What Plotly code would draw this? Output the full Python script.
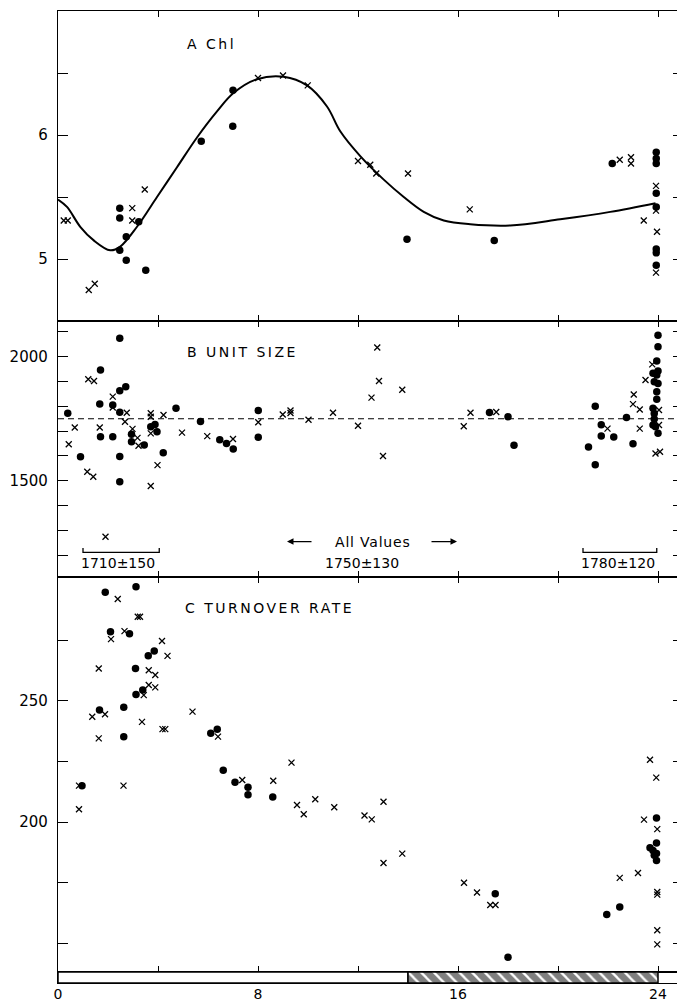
import plotly.graph_objects as go

# ---------------- Panel A: Chl ----------------
chl_curve_x = [0, 0.36, 0.89, 1.43, 2.09, 2.49, 3.16, 3.96, 4.76, 5.56, 6.36, 7.03, 7.96, 9.03,
               9.96, 10.76, 11.29, 12.09, 13.03, 13.83, 14.63, 15.43, 16.49, 18.09, 20.09, 22.09, 23.9]
chl_curve_y = [5.48, 5.42, 5.26, 5.15, 5.07, 5.10, 5.26, 5.50, 5.74, 5.98, 6.19, 6.34, 6.45, 6.47,
               6.40, 6.23, 6.03, 5.83, 5.64, 5.50, 5.38, 5.31, 5.28, 5.27, 5.32, 5.38, 5.45]
chl_dot_x = [2.47, 2.47, 2.47, 2.73, 2.73, 3.23, 3.51, 5.73, 7.0, 6.99, 13.96, 17.45, 22.17,
             23.93, 23.93, 23.93, 23.93, 23.93, 23.93, 23.93, 23.93]
chl_dot_y = [5.41, 5.33, 5.07, 5.18, 4.99, 5.30, 4.91, 5.95, 6.36, 6.07, 5.16, 5.15, 5.77,
             5.86, 5.81, 5.77, 5.53, 5.42, 5.08, 5.05, 4.95]
chl_cross_x = [0.23, 0.39, 1.23, 1.47, 2.97, 2.97, 3.47, 8.0, 9.0, 9.99, 12.0, 12.49, 12.73, 14.0,
               16.47, 22.47, 22.92, 22.92, 23.43, 23.92, 23.92, 23.96, 23.92]
chl_cross_y = [5.31, 5.31, 4.75, 4.80, 5.41, 5.31, 5.56, 6.46, 6.48, 6.40, 5.79, 5.76, 5.69, 5.69,
               5.40, 5.80, 5.82, 5.77, 5.31, 5.59, 5.39, 5.22, 4.89]

# ---------------- Panel B: Unit size ----------------
unit_dot_x = [0.39, 0.90, 1.67, 1.70, 1.70, 2.19, 2.19, 2.47, 2.47, 2.71, 2.47, 2.47, 2.47, 2.94,
              2.94, 3.45, 3.71, 3.88, 3.96, 4.21, 4.72, 5.70, 6.47, 6.74, 7.01, 8.01, 8.01, 17.26,
              18.0, 18.24, 21.22, 21.49, 21.49, 21.73, 21.73, 22.23, 22.74, 23.0,
              24.0, 24.0, 23.95, 24.0, 23.8, 23.95, 23.85, 24.0, 23.95, 23.95, 23.8, 23.85, 23.85,
              23.8, 23.9, 24.0]
unit_dot_y = [1772, 1597, 1809, 1677, 1946, 1805, 1677, 2074, 1863, 1879, 1776, 1598, 1496, 1687,
              1657, 1644, 1718, 1727, 1698, 1613, 1792, 1739, 1665, 1650, 1628, 1783, 1675, 1775,
              1758, 1643, 1636, 1800, 1565, 1726, 1680, 1676, 1755, 1649,
              2087, 2040, 1983, 1942, 1933, 1926, 1899, 1892, 1859, 1829, 1792, 1771, 1749,
              1725, 1718, 1691]
unit_cross_x = [0.43, 0.67, 1.21, 1.44, 1.67, 1.17, 1.41, 1.90, 2.19, 2.19, 2.75, 2.68, 2.98, 3.18,
                3.22, 3.71, 3.71, 3.71, 3.71, 3.98, 4.22, 4.96, 5.97, 7.0, 8.01, 8.99, 9.3, 9.3,
                10.02, 11.0, 12.0, 12.54, 12.77, 12.84, 13.77, 13.0, 16.23, 16.5, 17.53, 21.98,
                23.03, 23.0, 23.27, 23.27, 23.5, 23.77, 24.04, 24.04, 23.9, 24.08]
unit_cross_y = [1647, 1715, 1909, 1902, 1715, 1536, 1516, 1274, 1839, 1795, 1774, 1738, 1709, 1673,
                1641, 1772, 1758, 1691, 1479, 1563, 1765, 1694, 1680, 1668, 1736, 1767, 1783, 1773,
                1746, 1774, 1722, 1835, 2037, 1902, 1867, 1600, 1720, 1774, 1777, 1710,
                1848, 1809, 1787, 1710, 1906, 1969, 1785, 1725, 1610, 1617]
unit_mean = 1750
group_labels = ["1710±150", "1750±130", "1780±120"]
group_ranges = [(1.0, 4.05), (21.0, 23.95)]

# ---------------- Panel C: Turnover rate ----------------
turn_dot_x = [0.96, 1.89, 3.12, 2.10, 2.86, 3.61, 3.85, 3.10, 3.39, 3.12, 1.66, 2.63, 2.63, 6.11,
              6.37, 6.61, 7.08, 7.6, 7.6, 8.59, 17.49, 18.0, 21.95, 22.47, 23.94, 23.94, 23.68,
              23.8, 23.94, 23.85, 23.94]
turn_dot_y = [215.0, 294.7, 297.0, 278.4, 277.6, 268.5, 270.5, 263.3, 254.4, 252.6, 246.2, 247.3,
              235.2, 236.6, 238.3, 221.4, 216.4, 214.3, 211.3, 210.3, 170.4, 144.3, 161.9, 165.0,
              201.7, 191.4, 189.4, 188.3, 187.0, 186.3, 184.2]
turn_cross_x = [0.84, 0.84, 1.37, 1.88, 1.63, 1.63, 2.39, 2.12, 2.66, 2.62, 3.19, 3.28, 3.63, 3.89,
                3.63, 3.89, 3.43, 3.36, 4.16, 4.38, 4.18, 4.29, 5.38, 6.4, 7.37, 8.61, 9.34, 9.56,
                9.83, 10.29, 11.05, 12.26, 12.55, 13.02, 13.02, 13.77, 16.24, 16.76, 17.29, 17.5,
                22.47, 23.2, 23.68, 23.93, 23.44, 23.97, 23.97, 23.97, 23.97, 23.97]
turn_cross_y = [215.0, 205.3, 243.4, 244.4, 263.3, 234.5, 291.9, 275.4, 278.7, 215.0, 284.6, 284.6,
                262.6, 260.6, 256.5, 255.5, 252.3, 241.3, 274.6, 268.5, 238.3, 238.3, 245.5, 235.2,
                217.3, 217.0, 224.5, 207.0, 203.2, 209.4, 206.1, 202.7, 201.1, 208.4, 183.1, 187.0,
                175.0, 171.0, 165.8, 165.8, 177.0, 179.0, 225.7, 218.3, 201.0, 197.1, 171.2, 170.1,
                155.4, 149.6]

# light / dark periods (hours)
period_start = [0, 14]
period_len = [14, 10]
period_pattern = ["", "\\"]

x_ticks_minor = [4, 8, 12, 16, 20, 24]
x_ticks_label = [0, 8, 16, 24]

FONT = "DejaVu Sans"
BLACK = "black"

fig = go.Figure()

def dots(x, y, ax):
    return go.Scatter(x=x, y=y, mode="markers", xaxis="x" + ax, yaxis="y" + ax,
                      marker=dict(symbol="circle", size=7.5, color=BLACK), showlegend=False,
                      hoverinfo="skip")

def crosses(x, y, ax):
    return go.Scatter(x=x, y=y, mode="markers", xaxis="x" + ax, yaxis="y" + ax,
                      marker=dict(symbol="x-thin", size=6, color=BLACK,
                                  line=dict(color=BLACK, width=1.3)),
                      showlegend=False, hoverinfo="skip")

# Panel A
fig.add_trace(go.Scatter(x=chl_curve_x, y=chl_curve_y, mode="lines", xaxis="x", yaxis="y",
                         line=dict(color=BLACK, width=2, shape="spline", smoothing=1.0),
                         showlegend=False, hoverinfo="skip"))
fig.add_trace(dots(chl_dot_x, chl_dot_y, ""))
fig.add_trace(crosses(chl_cross_x, chl_cross_y, ""))
# Panel B
fig.add_trace(go.Scatter(x=[0, 25], y=[unit_mean, unit_mean], mode="lines", xaxis="x2", yaxis="y2",
                         line=dict(color=BLACK, width=1.2, dash="6px,4px"),
                         showlegend=False, hoverinfo="skip"))
fig.add_trace(dots(unit_dot_x, unit_dot_y, "2"))
fig.add_trace(crosses(unit_cross_x, unit_cross_y, "2"))
# Panel C
fig.add_trace(dots(turn_dot_x, turn_dot_y, "3"))
fig.add_trace(crosses(turn_cross_x, turn_cross_y, "3"))
# light/dark bar
fig.add_trace(go.Bar(orientation="h", y=[0, 0], x=period_len, base=period_start,
                     xaxis="x4", yaxis="y4", width=1,
                     marker=dict(color="white", line=dict(color=BLACK, width=1.5),
                                 pattern=dict(shape=period_pattern, fgcolor=BLACK, bgcolor="white",
                                              size=9, solidity=0.75)),
                     showlegend=False, hoverinfo="skip"))

H = 972.0
dom_bar = [0, 11 / H]
dom_c = [11 / H, 406 / H]
dom_b = [406 / H, 662 / H]
dom_a = [662 / H, 1.0]

LW = 1.4
common_x = dict(range=[0, 25], showgrid=False, zeroline=False, showline=True, linecolor=BLACK,
                linewidth=LW, mirror="ticks", ticks="inside", ticklen=6, tickwidth=1.4,
                tickcolor=BLACK, tickvals=x_ticks_minor, showticklabels=False, automargin=False)
common_y = dict(showgrid=False, zeroline=False, showline=True, linecolor=BLACK, linewidth=LW,
                mirror="ticks", ticks="inside", ticklen=10, tickwidth=1.4, tickcolor=BLACK,
                tickfont=dict(family=FONT, size=15, color=BLACK), ticklabelstandoff=6,
                automargin=False)

def labels(vals, shown):
    return [str(v) if v in shown else "" for v in vals]

a_ticks = [5, 5.5, 6, 6.5]
b_ticks = [1200, 1300, 1400, 1500, 1600, 1700, 1800, 1900, 2000, 2100]
c_ticks = [150, 175, 200, 225, 250, 275]

# the page body adds an 8px offset, so the figure is sized/margined to compensate
fig.update_layout(
    width=677, height=995,
    margin=dict(l=50, r=2, t=3, b=20, autoexpand=False),
    paper_bgcolor="white", plot_bgcolor="white",
    barmode="overlay",
    xaxis=dict(common_x, anchor="y"),
    xaxis2=dict(common_x, anchor="y2", matches="x"),
    xaxis3=dict(common_x, anchor="y3", matches="x"),
    xaxis4=dict(range=[0, 25], anchor="y4", matches="x", showgrid=False, zeroline=False,
                showline=True, linecolor=BLACK, linewidth=LW, mirror=True, ticks="",
                tickvals=x_ticks_label, ticktext=[str(v) for v in x_ticks_label],
                tickfont=dict(family=FONT, size=14, color=BLACK), ticklabelstandoff=-2,
                automargin=False),
    yaxis=dict(common_y, domain=dom_a, range=[4.5, 7.0], anchor="x",
               tickvals=a_ticks, ticktext=["5", "", "6", ""]),
    yaxis2=dict(common_y, domain=dom_b, range=[1112, 2144], anchor="x2",
                tickvals=b_ticks, ticktext=labels(b_ticks, [1500, 2000])),
    yaxis3=dict(common_y, domain=dom_c, range=[138.2, 301], anchor="x3",
                tickvals=c_ticks, ticktext=labels(c_ticks, [200, 250])),
    yaxis4=dict(domain=dom_bar, range=[-0.5, 0.5], anchor="x4", showgrid=False, zeroline=False,
                showline=True, linecolor=BLACK, linewidth=LW, mirror=True, ticks="",
                showticklabels=False, automargin=False),
)

def txt(s, x, y, ax, xanchor="left", size=14, spacing=None):
    t = s if spacing is None else '<span style="letter-spacing:%spx">%s</span>' % (spacing, s)
    fig.add_annotation(text=t, x=x, y=y, xref="x" + ax, yref="y" + ax, showarrow=False,
                       xanchor=xanchor, yanchor="middle",
                       font=dict(family=FONT, size=size, color=BLACK))

txt("A Chl", 5.08, 6.73, "", spacing=2.5)
txt("B UNIT SIZE", 5.08, 2020, "2", spacing=2.5)
txt("C TURNOVER RATE", 5.0, 288.2, "3", spacing=2.5)
txt("All Values", 12.58, 1255, "2", xanchor="center", spacing=0.8)
txt(group_labels[1], 12.16, 1168, "2", xanchor="center")
txt(group_labels[0], 2.38, 1168, "2", xanchor="center")
txt(group_labels[2], 22.38, 1168, "2", xanchor="center")

for head, tail in [(9.16, 10.2), (15.96, 14.88)]:
    fig.add_annotation(x=head, y=1255, ax=tail, ay=1255, xref="x2", yref="y2", axref="x2",
                       ayref="y2", text="", showarrow=True, arrowhead=2, arrowsize=1,
                       arrowwidth=1.3, arrowcolor=BLACK)

for x0, x1 in group_ranges:
    fig.add_shape(type="path", xref="x2", yref="y2",
                  path="M %s,1229 L %s,1211 L %s,1211 L %s,1229" % (x0, x0, x1, x1),
                  line=dict(color=BLACK, width=1.3))

fig.write_html("out.html")
